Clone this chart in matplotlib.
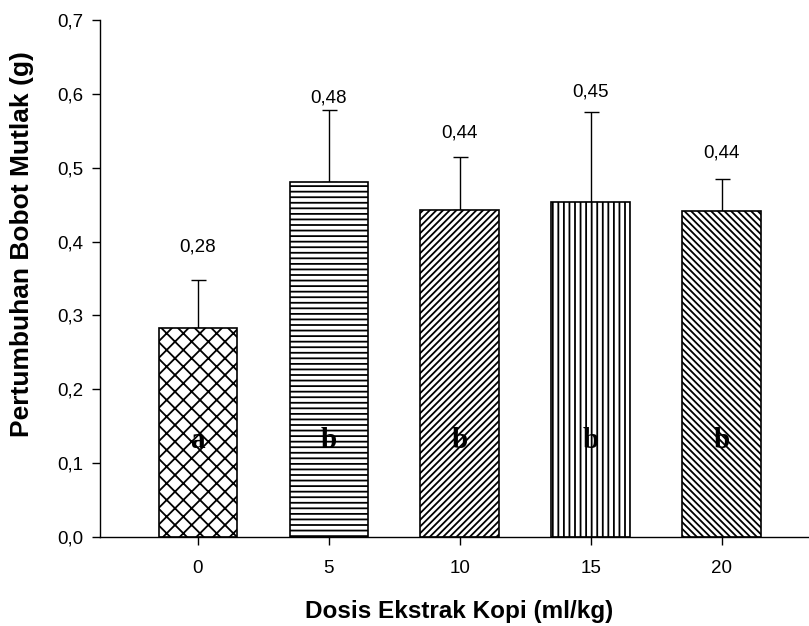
import matplotlib
matplotlib.use("Agg")
import matplotlib.pyplot as plt
import numpy as np

# Data
doses = [0, 5, 10, 15, 20]
tick_labels = ["0", "5", "10", "15", "20"]
means = [0.283, 0.480, 0.443, 0.453, 0.441]
sd_upper = [0.065, 0.098, 0.071, 0.122, 0.044]
value_labels = ["0,28", "0,48", "0,44", "0,45", "0,44"]
letters = ["a", "b", "b", "b", "b"]
y_ticks = [0.0, 0.1, 0.2, 0.3, 0.4, 0.5, 0.6, 0.7]
y_tick_labels = ["0,0", "0,1", "0,2", "0,3", "0,4", "0,5", "0,6", "0,7"]

# layout / style (not data)
label_y = [0.393, 0.594, 0.547, 0.603, 0.520]
hatches = ["xx", "---", "/////", "|||", "\\\\\\\\\\"]

plt.rcParams["font.family"] = ["Liberation Sans", "DejaVu Sans"]
plt.rcParams["hatch.linewidth"] = 1.3
plt.rcParams["hatch.color"] = "black"

fig = plt.figure(figsize=(8.09, 6.26), dpi=100)
ax = fig.add_axes([100 / 809, 89 / 626, 709 / 809, 517 / 626])

bars = ax.bar(doses, means, width=3.0, color="white", edgecolor="black",
              linewidth=1.2, zorder=2)
for b, h in zip(bars, hatches):
    b.set_hatch(h)

ax.errorbar(doses, means, yerr=[np.zeros(len(means)), sd_upper], fmt="none",
            ecolor="black", elinewidth=1.0, capsize=5.4, capthick=1.0, zorder=1)

for x, ly, txt in zip(doses, label_y, value_labels):
    ax.text(x, ly, txt, ha="center", va="center", fontsize=13.5)

for x, let in zip(doses, letters):
    ax.text(x, 0.12, let, ha="center", va="baseline", fontsize=21,
            fontweight="bold", family="Liberation Serif", zorder=3)

ax.set_xlim(-3.74, 23.34)
ax.set_ylim(0, 0.7)
ax.set_xticks(doses)
ax.set_xticklabels(tick_labels)
ax.set_yticks(y_ticks)
ax.set_yticklabels(y_tick_labels)
ax.tick_params(axis="both", direction="out", length=5.8, width=1.0,
               labelsize=13.5, colors="black")
ax.tick_params(axis="x", pad=11)
ax.tick_params(axis="y", pad=6)

for side in ["top", "right"]:
    ax.spines[side].set_visible(False)
for side in ["left", "bottom"]:
    ax.spines[side].set_linewidth(1.0)

ax.set_xlabel("Dosis Ekstrak Kopi (ml/kg)", fontsize=17.5, fontweight="bold",
              va="center")
ax.xaxis.set_label_coords(0.506, -0.145)
ax.set_ylabel("Pertumbuhan Bobot Mutlak (g)", fontsize=19, fontweight="bold",
              va="center")
ax.yaxis.set_label_coords(-0.110, 0.567)

fig.savefig("out.png", dpi=100)
plt.close(fig)
